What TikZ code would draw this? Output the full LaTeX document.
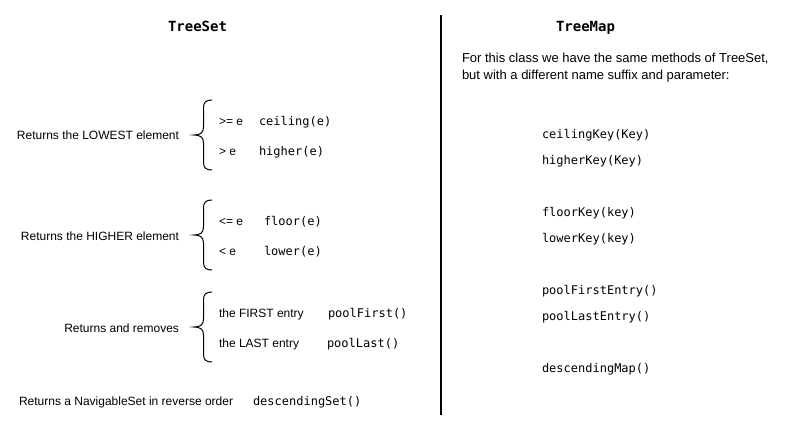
\documentclass[tikz,border=0pt]{standalone}
\usepackage{fontspec}
\setmainfont{Liberation Sans}
\setmonofont{DejaVu Sans Mono}
\begin{document}
\begin{tikzpicture}[x=1pt,y=-1pt,
  every node/.style={inner sep=0pt,outer sep=0pt,text height=8.6pt,text depth=0pt},
  lbl/.style={font=\fontsize{12pt}{14pt}\selectfont,anchor=west},
  para/.style={font=\fontsize{13pt}{15pt}\selectfont,anchor=west,text height=9.3pt},
  code/.style={font=\fontsize{12pt}{14pt}\selectfont\ttfamily,anchor=west},
  title/.style={font=\fontsize{14pt}{16pt}\selectfont\ttfamily\bfseries,text height=10pt},
  bracestyle/.style={draw=black,line width=1pt},
  divider/.style={draw=black,line width=2pt}]
\useasboundingbox (0,0) rectangle (791,421);

% titles
\node[title] (ts) at (197.5,26) {TreeSet};
\node[title] (tm) at (585.5,26) {TreeMap};

% divider
\coordinate (dtop) at (440.5,15);
\coordinate (dbot) at (440.5,415);
\draw[divider] (dtop) -- (dbot);

% braces
\foreach \yt/\ym/\yb in {100/135/170, 200/235/270, 292/327/362}{
  \draw[bracestyle] (212,\yt) .. controls (206,\yt) and (203.5,\yt+2) .. (203.5,\yt+8)
    -- (203.5,\ym-8) .. controls (203.5,\ym-2) and (200,\ym) .. (194,\ym)
    .. controls (200,\ym) and (203.5,\ym+2) .. (203.5,\ym+8)
    -- (203.5,\yb-8) .. controls (203.5,\yb-2) and (206,\yb) .. (212,\yb);
}

% left side labels
\node[lbl,anchor=east] (low) at (179,135) {Returns the LOWEST element};
\node[lbl] (ge) at (219,121) {>= e};
\node[code] (ceil) at (259,121) {ceiling(e)};
\node[lbl] (gt) at (219,151) {> e};
\node[code] (high) at (259,151) {higher(e)};

\node[lbl,anchor=east] (hig) at (179,236) {Returns the HIGHER element};
\node[lbl] (le) at (219,221) {<= e};
\node[code] (floor) at (264,221) {floor(e)};
\node[lbl] (lt) at (219,251) {< e};
\node[code] (lower) at (264,251) {lower(e)};

\node[lbl,anchor=east] (rr) at (179,328) {Returns and removes};
\node[lbl] (first) at (219,313) {the FIRST entry};
\node[code] (pf) at (328,313) {poolFirst()};
\node[lbl] (last) at (219,343) {the LAST entry};
\node[code] (pl) at (327,343) {poolLast()};

\node[lbl] (nav) at (19,401) {Returns a NavigableSet in reverse order};
\node[code] (ds) at (253,401) {descendingSet()};

% right side
\node[para] (d1) at (462,57.5) {For this class we have the same methods of TreeSet,};
\node[para] (d2) at (462,74.5) {but with a different name suffix and parameter:};

\node[code] (ck) at (542,134) {ceilingKey(Key)};
\node[code] (hk) at (542,160) {higherKey(Key)};
\node[code] (fk) at (542,212) {floorKey(key)};
\node[code] (lk) at (542,238) {lowerKey(key)};
\node[code] (pfe) at (542,290) {poolFirstEntry()};
\node[code] (ple) at (542,316) {poolLastEntry()};
\node[code] (dm) at (542,368) {descendingMap()};
\end{tikzpicture}
\end{document}
